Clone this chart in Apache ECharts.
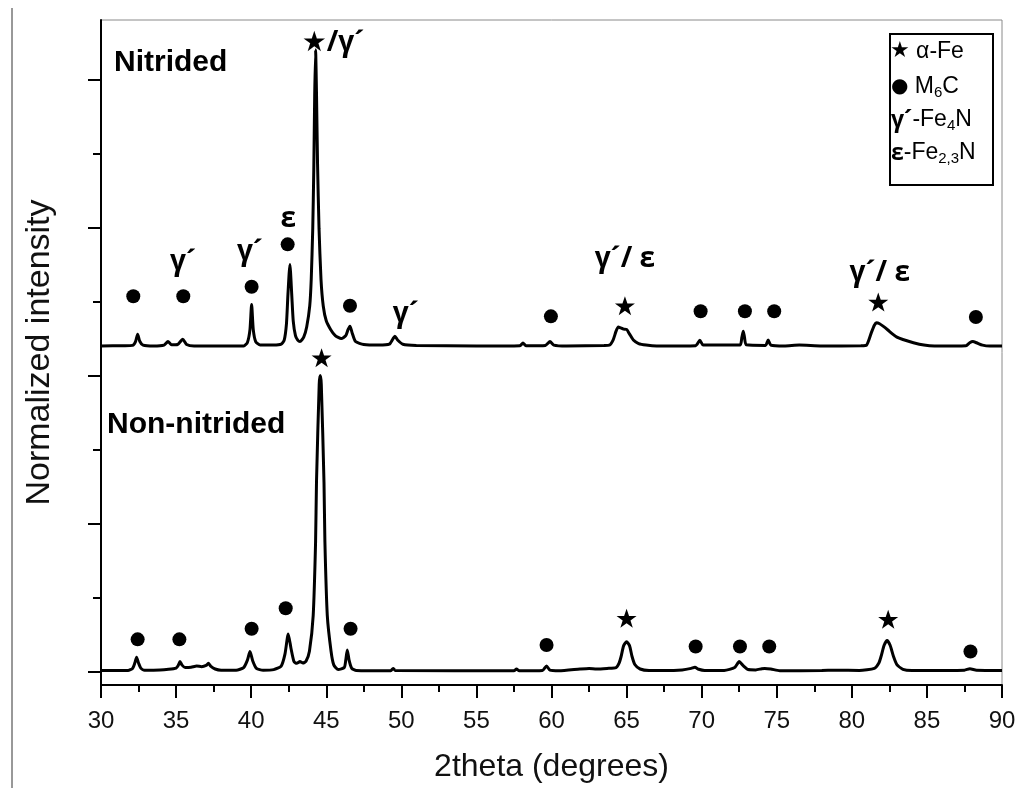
<!DOCTYPE html>
<html>
<head>
<meta charset="utf-8">
<script src="https://cdn.jsdelivr.net/npm/echarts@6/dist/echarts.min.js"></script>
<style>
  html, body { margin: 0; padding: 0; background: #fff; }
  #chart { width: 1019px; height: 788px; }
</style>
</head>
<body>
<div id="chart"></div>
<script>
// X-ray diffraction patterns, each normalized to 100 at its strongest reflection.
// Pairs are [2theta (deg), normalized intensity].
const xTickLabels = [30, 35, 40, 45, 50, 55, 60, 65, 70, 75, 80, 85, 90];
const yMajorTicks = [0, 50, 100, 150, 200];
const yMinorTicks = [25, 75, 125, 175];

// vertical shift of the nitrided pattern above the non-nitrided one
const nitridedOffset = 110;

const nitrided = [
  [30.0, 0], [31.5, 0.1], [32.1, 0.2], [32.3, 1.5], [32.44, 4], [32.58, 1.6], [32.8, 0.3],
  [33.5, 0], [34.2, 0.3], [34.46, 1.5], [34.7, 0.4], [35.1, 0.5], [35.44, 2.3], [35.7, 0.5],
  [36.2, 0], [39.5, 0], [39.75, 1.2], [39.92, 5.5], [40.03, 14], [40.14, 5.5], [40.3, 1.5],
  [40.6, 0.3], [41.5, 0.3], [42.0, 0.6], [42.2, 2], [42.35, 7.5], [42.45, 17.5], [42.58, 27.5],
  [42.7, 17.5], [42.8, 8.5], [42.95, 3.5], [43.1, 2], [43.25, 1.5], [43.5, 3], [43.7, 6.5],
  [43.9, 13.5], [44.0, 22.5], [44.1, 39.5], [44.17, 59.5], [44.23, 84.5], [44.29, 100],
  [44.35, 85.5], [44.42, 61.5], [44.52, 39.5], [44.65, 22.5], [44.8, 13.5], [45.0, 8.5],
  [45.3, 5.5], [45.6, 3.5], [46.0, 2.5], [46.3, 3.5], [46.45, 5.5], [46.58, 6.7], [46.72, 4.5],
  [46.95, 1.5], [47.5, 0.5], [48.5, 0.3], [49.2, 0.6], [49.45, 2.5], [49.57, 3.3], [49.75, 2],
  [50.1, 0.6], [51.0, 0.2], [55.0, 0], [57.9, 0.1], [58.1, 1], [58.3, 0.1], [59.6, 0.2],
  [59.9, 1.5], [60.15, 0.3], [61.0, 0], [63.5, 0.2], [63.85, 0.3], [64.1, 2], [64.3, 5],
  [64.45, 6.4], [64.6, 6.1], [64.8, 5.7], [65.0, 5.6], [65.2, 4], [65.45, 2], [65.8, 0.8],
  [66.3, 0.3], [67.0, 0], [69.6, 0.1], [69.88, 1.9], [70.1, 0.3], [72.55, 0.3], [72.68, 3],
  [72.77, 5], [72.85, 3], [72.97, 0.4], [74.25, 0.2], [74.43, 2], [74.6, 0.3], [75.5, 0],
  [76.5, 0.3], [78.0, 0], [80.6, 0.1], [80.98, 0.3], [81.3, 4.5], [81.5, 7], [81.64, 7.8],
  [81.85, 7.5], [82.08, 6.7], [82.4, 5.4], [82.7, 4.1], [83.0, 3], [83.4, 2.2], [84.1, 1.1],
  [84.8, 0.3], [85.5, 0], [87.6, 0.1], [87.85, 1.1], [88.06, 1.5], [88.3, 1.1], [88.7, 0.3],
  [89.2, 0], [90.0, 0]
];

const nonNitrided = [
  [30.0, 0.5], [31.8, 0.5], [32.1, 1.2], [32.25, 3], [32.37, 5], [32.5, 3], [32.65, 1.3],
  [32.9, 0.6], [33.5, 0.6], [34.5, 0.9], [35.0, 1.3], [35.15, 2.3], [35.26, 3.5], [35.4, 2.3],
  [35.6, 1.5], [36.0, 1.6], [36.37, 2], [36.7, 1.8], [37.0, 2.2], [37.15, 2.9], [37.3, 2],
  [37.6, 1], [38.0, 0.6], [39.0, 0.6], [39.5, 1.5], [39.75, 4], [39.92, 6.9], [40.1, 3.8],
  [40.35, 1.2], [40.8, 0.6], [41.5, 0.8], [42.0, 2], [42.25, 6], [42.47, 12.8], [42.65, 8],
  [42.85, 3.5], [43.03, 2.9], [43.25, 3.5], [43.45, 3], [43.65, 3.6], [43.88, 7], [44.13, 19],
  [44.29, 44], [44.35, 64], [44.53, 97], [44.6, 100], [44.67, 97], [44.85, 64], [44.91, 44],
  [45.07, 19], [45.32, 7], [45.5, 2.4], [45.8, 0.8], [46.2, 1.5], [46.3, 4], [46.4, 7.4],
  [46.52, 4], [46.7, 1.2], [47.0, 0.5], [49.3, 0.4], [49.45, 1.2], [49.6, 0.5], [57.5, 0.4],
  [57.67, 1], [57.85, 0.4], [59.4, 0.5], [59.67, 2], [59.9, 0.6], [60.5, 0.4], [61.9, 1],
  [62.5, 1.2], [63.0, 1], [63.7, 1.2], [64.3, 1.5], [64.5, 3], [64.64, 5.3], [64.8, 8.8],
  [65.0, 10.2], [65.2, 8.8], [65.36, 5.3], [65.55, 2.5], [65.9, 1], [66.5, 0.5], [67.5, 0.5],
  [68.7, 0.7], [69.3, 1.2], [69.55, 1.6], [69.8, 0.9], [70.2, 0.5], [71.5, 0.5], [72.2, 1.5],
  [72.5, 3.5], [72.75, 2.2], [73.1, 0.8], [73.6, 0.7], [74.0, 1.1], [74.2, 1.2], [74.6, 1.0],
  [75.2, 0.4], [78.0, 0.5], [79.0, 0.6], [80.5, 0.5], [81.5, 1.2], [81.8, 3], [81.95, 5.3],
  [82.15, 9], [82.35, 10.6], [82.55, 9], [82.77, 5.3], [83.0, 2.5], [83.4, 0.9], [84.0, 0.5],
  [87.5, 0.6], [87.86, 1.1], [88.3, 0.6], [90.0, 0.5]
];

// phase markers: [2theta, height on the pattern's own scale]
const nitridedCarbides = [
  [32.15, 16.8], [35.48, 16.8], [40.03, 20], [42.43, 34.3], [46.58, 13.6],
  [59.96, 10], [69.93, 11.7], [72.88, 11.7], [74.83, 11.7], [88.26, 9.8]
];
const nitridedFerrite = [[64.89, 13.6], [81.76, 14.8]];
const nonNitridedCarbides = [
  [32.44, 11], [35.22, 11], [40.03, 14.6], [42.3, 21.5], [46.62, 14.6],
  [59.67, 9.1], [69.6, 8.6], [72.55, 8.6], [74.5, 8.6], [87.9, 6.9]
];
const nonNitridedFerrite = [[44.69, 106], [65.0, 18.1], [82.42, 17.8]];

// nitride reflection labels on the nitrided pattern: [text, 2theta, height]
const nitrideLabels = [
  ['γ´', 35.46, 28.2], ['γ´', 39.92, 31.6], ['ε', 42.47, 42.7], ['★/γ´', 45.45, 102.2],
  ['γ´', 50.3, 10.8], ['γ´/ ε', 64.89, 29.2], ['γ´/ ε', 81.86, 24.7]
];

const STAR = 'path://M50,2 L61.8,36.2 L97.6,36.2 L68.6,57.4 L79.6,91.6 L50,70.4 L20.4,91.6 L31.4,57.4 L2.4,36.2 L38.2,36.2 Z';
const shift = (pts, d) => pts.map(([x, y]) => [x, y + d]);

const chart = echarts.init(document.getElementById('chart'), null, { renderer: 'canvas' });

const axisFont = 'Arial, "Liberation Sans", sans-serif';
const boldFont = '"Liberation Sans", Arial, sans-serif';
const greekFont = '"Open Sans", "DejaVu Sans", sans-serif';

chart.setOption({
  animation: false,
  backgroundColor: '#fff',
  grid: {
    left: 101, right: 17, top: 20, bottom: 103,
    show: true, borderColor: '#8a8a8a', borderWidth: 1, backgroundColor: 'transparent'
  },
  xAxis: {
    type: 'value', min: 30, max: 90, interval: 5,
    name: '2theta (degrees)', nameLocation: 'middle', nameGap: 66,
    nameTextStyle: { fontFamily: axisFont, fontSize: 32, color: '#111' },
    axisLine: { show: true, onZero: false, lineStyle: { color: '#000', width: 2 } },
    axisTick: { show: true, length: 13, lineStyle: { color: '#000', width: 2 } },
    minorTick: { show: true, splitNumber: 2, length: 7, lineStyle: { color: '#000', width: 2 } },
    axisLabel: {
      fontFamily: axisFont, fontSize: 24, color: '#111', margin: 24,
      customValues: xTickLabels
    },
    splitLine: { show: false }, minorSplitLine: { show: false }
  },
  yAxis: [
    {
      type: 'value', min: -4.4, max: 220,
      name: 'Normalized intensity', nameLocation: 'middle', nameGap: 44,
      nameTextStyle: { fontFamily: axisFont, fontSize: 34, color: '#111' },
      axisLine: { show: true, onZero: false, lineStyle: { color: '#000', width: 2 } },
      axisTick: { show: true, length: 13, customValues: yMajorTicks, lineStyle: { color: '#000', width: 2 } },
      axisLabel: { show: false },
      splitLine: { show: false }
    },
    {
      type: 'value', min: -4.4, max: 220, position: 'left',
      axisLine: { show: false },
      axisTick: { show: true, length: 8, customValues: yMinorTicks, lineStyle: { color: '#000', width: 2 } },
      axisLabel: { show: false },
      splitLine: { show: false }
    }
  ],
  series: [
    {
      name: 'Nitrided', type: 'line', data: shift(nitrided, nitridedOffset),
      showSymbol: false, smooth: 0.2, lineStyle: { color: '#000', width: 3 }, z: 3
    },
    {
      name: 'Non-nitrided', type: 'line', data: nonNitrided,
      showSymbol: false, smooth: 0.2, lineStyle: { color: '#000', width: 3 }, z: 3
    },
    {
      name: 'M6C', type: 'scatter', symbol: 'circle', symbolSize: 14,
      itemStyle: { color: '#000', opacity: 1 },
      data: shift(nitridedCarbides, nitridedOffset).concat(nonNitridedCarbides)
    },
    {
      name: 'α-Fe', type: 'scatter', symbol: STAR, symbolSize: [20, 19],
      itemStyle: { color: '#000', opacity: 1 },
      data: shift(nitridedFerrite, nitridedOffset).concat(nonNitridedFerrite)
    },
    {
      name: 'nitrides', type: 'scatter', symbolSize: 1,
      itemStyle: { color: 'rgba(255,255,255,0)', opacity: 1 },
      data: nitrideLabels.map(([t, x, y]) => ({ name: t, value: [x, y + nitridedOffset] })),
      label: {
        show: true, position: 'inside', formatter: '{b}',
        fontFamily: greekFont, fontWeight: 'bold',
        fontSize: 28, color: '#000', opacity: 1
      }
    }
  ],
  graphic: [
    {
      type: 'line', silent: true,
      shape: { x1: 12, y1: 8, x2: 12, y2: 788 },
      style: { stroke: '#333', lineWidth: 1 }
    },
    {
      type: 'text', left: 114, top: 48,
      style: { text: 'Nitrided', font: 'bold 30px ' + boldFont, fill: '#000' }
    },
    {
      type: 'text', left: 107, top: 410,
      style: { text: 'Non-nitrided', font: 'bold 30px ' + boldFont, fill: '#000' }
    },
    {
      type: 'rect', left: 889, top: 33,
      shape: { width: 103, height: 151 },
      style: { fill: '#fff', stroke: '#000', lineWidth: 2 }
    },
    {
      type: 'text', left: 890, top: 40,
      style: {
        text: '{s|★} α-Fe',
        font: '23px ' + axisFont, fill: '#000',
        rich: { s: { fontSize: 22, fontFamily: '"DejaVu Sans", sans-serif' } }
      }
    },
    {
      type: 'text', left: 891, top: 74,
      style: {
        text: '{c|●} M{b|6}C',
        font: '23px ' + axisFont, fill: '#000', lineHeight: 26,
        rich: {
          c: { fontSize: 20, fontFamily: '"DejaVu Sans", sans-serif', lineHeight: 26 },
          b: { fontSize: 15, lineHeight: 6, verticalAlign: 'bottom' }
        }
      }
    },
    {
      type: 'text', left: 891, top: 107,
      style: {
        text: '{g|γ´}-Fe{b|4}N',
        font: '23px ' + axisFont, fill: '#000', lineHeight: 26,
        rich: {
          g: { fontWeight: 'bold', fontFamily: greekFont, fontSize: 23, lineHeight: 26 },
          b: { fontSize: 15, lineHeight: 6, verticalAlign: 'bottom' }
        }
      }
    },
    {
      type: 'text', left: 891, top: 140,
      style: {
        text: '{g|ε}-Fe{b|2,3}N',
        font: '23px ' + axisFont, fill: '#000', lineHeight: 26,
        rich: {
          g: { fontWeight: 'bold', fontFamily: greekFont, fontSize: 23, lineHeight: 26 },
          b: { fontSize: 15, lineHeight: 6, verticalAlign: 'bottom' }
        }
      }
    }
  ]
});
</script>
</body>
</html>
